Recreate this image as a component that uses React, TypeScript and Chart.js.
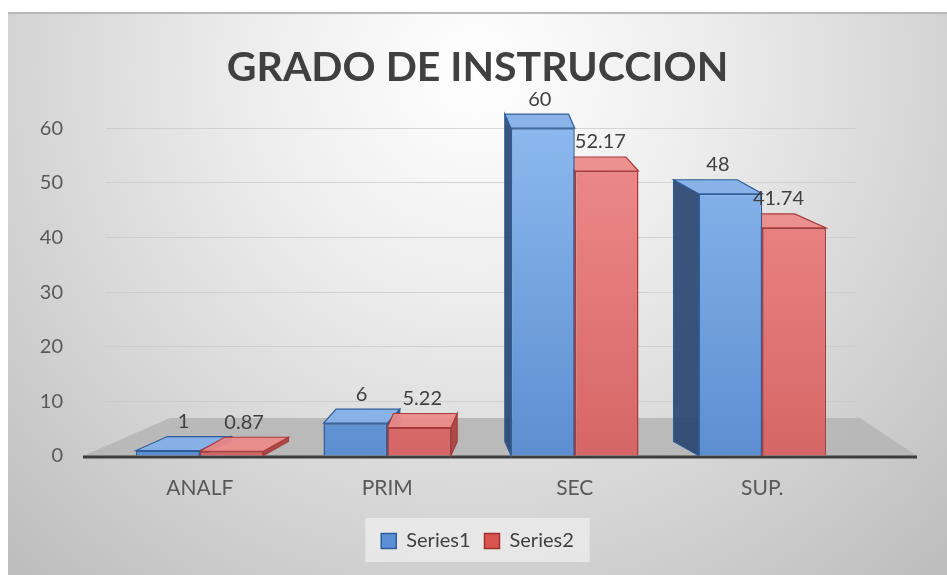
import React, { useEffect, useRef } from "react";
import { Chart, registerables } from "chart.js";

Chart.register(...registerables);

const categories = ["ANALF", "PRIM", "SEC", "SUP."];
const series1 = [1, 6, 60, 48];
const series2 = [0.87, 5.22, 52.17, 41.74];
const seriesNames = ["Series1", "Series2"];
const titleText = "GRADO DE INSTRUCCION";
const yMin = 0;
const yMax = 60;
const yStep = 10;

const FONT = "Lato, 'Open Sans', sans-serif";

const palette = [
  { top: "#8cb8ee", bottom: "#5d8ed0", border: "#2f5d97", side: "rgba(38,66,110,0.9)", face: "rgba(132,176,232,0.95)", legend: "#5b8fd6", legendBorder: "#2f5d97" },
  { top: "#f08c8c", bottom: "#d66666", border: "#a83c3c", side: "rgba(168,62,62,0.9)", face: "rgba(236,138,138,0.95)", legend: "#d9534f", legendBorder: "#9e3330" },
];

function grad(ctxArg: any, i: number) {
  const chart = ctxArg.chart;
  const ca = chart.chartArea;
  if (!ca) return palette[i].bottom;
  const g = chart.ctx.createLinearGradient(0, ca.top, 0, ca.bottom);
  g.addColorStop(0, palette[i].top);
  g.addColorStop(1, palette[i].bottom);
  return g;
}

const deco = {
  id: "deco",
  beforeDraw(chart: any) {
    const { ctx, width, height } = chart;
    ctx.save();
    const g = ctx.createRadialGradient(width / 2, 60, 0, width / 2, 60, 720);
    g.addColorStop(0, "#ffffff");
    g.addColorStop(0.3, "#eeeeee");
    g.addColorStop(0.62, "#d6d6d6");
    g.addColorStop(1, "#b9b9b9");
    ctx.fillStyle = g;
    ctx.fillRect(0, 0, width, height);
    ctx.fillStyle = "#b8b8b8";
    ctx.fillRect(0, 0, width, 2);
    const lg = chart.legend;
    if (lg && lg.legendHitBoxes && lg.legendHitBoxes.length) {
      const hb = lg.legendHitBoxes;
      let l = Infinity, r = -Infinity, t = Infinity, b = -Infinity;
      hb.forEach((h: any) => {
        l = Math.min(l, h.left); r = Math.max(r, h.left + h.width);
        t = Math.min(t, h.top); b = Math.max(b, h.top + h.height);
      });
      ctx.fillStyle = "rgba(240,240,240,0.7)";
      ctx.fillRect(l - 16, t - 13, r - l + 32, b - t + 24);
    }
    ctx.restore();
  },
  beforeDatasetsDraw(chart: any) {
    const { ctx, chartArea: ca, scales } = chart;
    const y0 = scales.y.getPixelForValue(0);
    ctx.save();
    ctx.fillStyle = "rgba(182,182,182,0.9)";
    ctx.beginPath();
    ctx.moveTo(ca.left - 23, y0);
    ctx.lineTo(ca.left + 64, y0 - 38);
    ctx.lineTo(ca.right + 4, y0 - 38);
    ctx.lineTo(ca.right + 61, y0);
    ctx.closePath();
    ctx.fill();
    ctx.strokeStyle = "#3d3d3d";
    ctx.lineWidth = 3;
    ctx.beginPath();
    ctx.moveTo(ca.left - 23, y0 + 1);
    ctx.lineTo(ca.right + 61, y0 + 1);
    ctx.stroke();
    const mid = (ca.left + ca.right) / 2;
    chart.data.datasets.forEach((ds: any, i: number) => {
      const meta = chart.getDatasetMeta(i);
      meta.data.forEach((bar: any) => {
        const p = bar.getProps(["x", "y", "base", "width"], true);
        const l = p.x - p.width / 2;
        const r = p.x + p.width / 2;
        const dx = (mid - p.x) * 0.1;
        const dy = -14;
        ctx.lineWidth = 1.2;
        ctx.strokeStyle = palette[i].border;
        ctx.fillStyle = palette[i].side;
        ctx.beginPath();
        const sx = dx > 0 ? r : l;
        ctx.moveTo(sx, p.y);
        ctx.lineTo(sx + dx, p.y + dy);
        ctx.lineTo(sx + dx, p.base + dy);
        ctx.lineTo(sx, p.base);
        ctx.closePath();
        ctx.fill();
        ctx.stroke();
        ctx.fillStyle = palette[i].face;
        ctx.beginPath();
        ctx.moveTo(l, p.y);
        ctx.lineTo(r, p.y);
        ctx.lineTo(r + dx, p.y + dy);
        ctx.lineTo(l + dx, p.y + dy);
        ctx.closePath();
        ctx.fill();
        ctx.stroke();
      });
    });
    ctx.restore();
  },
  afterDatasetsDraw(chart: any) {
    const { ctx, chartArea: ca } = chart;
    const mid = (ca.left + ca.right) / 2;
    ctx.save();
    ctx.font = `20px ${FONT}`;
    ctx.fillStyle = "#404040";
    ctx.textAlign = "center";
    ctx.textBaseline = "bottom";
    chart.data.datasets.forEach((ds: any, i: number) => {
      const meta = chart.getDatasetMeta(i);
      meta.data.forEach((bar: any, j: number) => {
        const p = bar.getProps(["x", "y"], true);
        const dx = (mid - p.x) * 0.1;
        ctx.fillText(String(ds.data[j]), p.x + dx / 2, p.y - 19);
      });
    });
    ctx.restore();
  },
};

export default function App() {
  const ref = useRef<HTMLCanvasElement | null>(null);
  useEffect(() => {
    if (!ref.current) return;
    const chart = new Chart(ref.current, {
      type: "bar",
      data: {
        labels: categories,
        datasets: [
          { label: seriesNames[0], data: series1, backgroundColor: (c: any) => grad(c, 0), borderColor: palette[0].border, borderWidth: 1.5, categoryPercentage: 0.68, barPercentage: 1 },
          { label: seriesNames[1], data: series2, backgroundColor: (c: any) => grad(c, 1), borderColor: palette[1].border, borderWidth: 1.5, categoryPercentage: 0.68, barPercentage: 1 },
        ],
      } as any,
      options: {
        animation: false,
        responsive: true,
        maintainAspectRatio: false,
        layout: { padding: { left: 0, right: 0, top: 0, bottom: 14 } },
        plugins: {
          title: {
            display: true,
            text: titleText,
            color: "#404040",
            font: { family: FONT, size: 41, weight: "bold" },
            padding: { top: 31, bottom: 36 },
          },
          legend: {
            display: true,
            position: "bottom",
            labels: {
              color: "#404040",
              font: { family: FONT, size: 20 },
              boxWidth: 15,
              boxHeight: 15,
              padding: 14,
              generateLabels: (chart: any) =>
                chart.data.datasets.map((ds: any, i: number) => ({
                  text: ds.label,
                  fillStyle: palette[i].legend,
                  strokeStyle: palette[i].legendBorder,
                  lineWidth: 1.5,
                  hidden: false,
                  datasetIndex: i,
                  fontColor: "#404040",
                })),
            },
          },
          tooltip: { enabled: false },
        },
        scales: {
          x: {
            grid: { display: false, drawTicks: false },
            border: { display: false },
            ticks: { color: "#595959", font: { family: FONT, size: 21 }, padding: 20 },
            afterFit: (s: any) => { s.height = 61; },
          },
          y: {
            min: yMin,
            max: yMax,
            grid: { color: "rgba(200,200,200,0.7)", drawTicks: false },
            border: { display: false },
            ticks: { stepSize: yStep, color: "#595959", font: { family: FONT, size: 20 }, padding: 43 },
            afterFit: (s: any) => { s.width = 98; },
          },
          y2: {
            position: "right",
            grid: { display: false, drawTicks: false },
            border: { display: false },
            ticks: { display: false },
            afterFit: (s: any) => { s.width = 91; },
          },
        },
      } as any,
      plugins: [deco],
    });
    return () => chart.destroy();
  }, []);
  return (
    <div style={{ position: "fixed", left: 8, top: 12, width: 939, height: 563 }}>
      <canvas ref={ref} />
    </div>
  );
}
